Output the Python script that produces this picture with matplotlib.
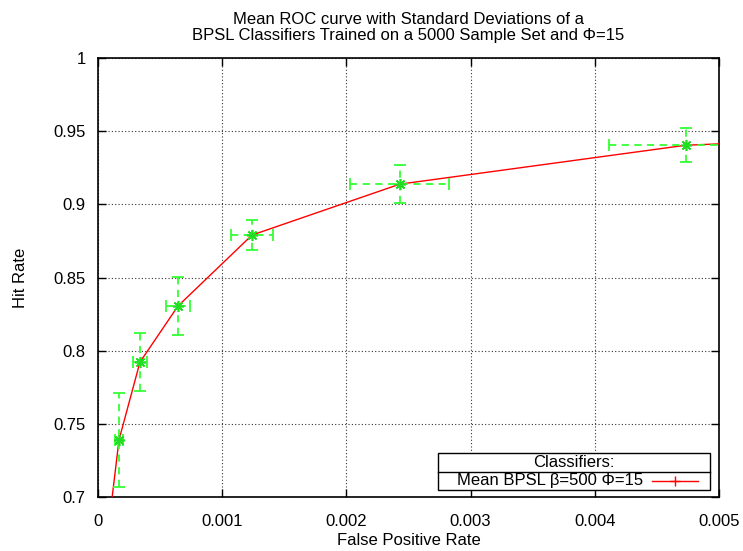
import matplotlib
matplotlib.use("Agg")
import matplotlib.pyplot as plt
from matplotlib.lines import Line2D
from matplotlib.patches import Rectangle

plt.rcParams['font.family'] = ['Liberation Sans', 'DejaVu Sans']
plt.rcParams['font.size'] = 12

# Mean ROC curve
fpr_curve = [0.000100, 0.000169, 0.000338, 0.000644, 0.00124, 0.00243, 0.004734, 0.005]
hit_curve = [0.690, 0.7390, 0.7922, 0.8305, 0.8790, 0.9138, 0.9404, 0.9413]

# Error-bar points
fpr_pts = [0.000169, 0.000338, 0.000644, 0.00124, 0.00243, 0.004734]
hit_pts = [0.7390, 0.7922, 0.8305, 0.8790, 0.9138, 0.9404]
fpr_std = [0.00003, 0.00006, 0.00010, 0.00017, 0.00040, 0.00062]
hit_std = [0.032, 0.020, 0.020, 0.010, 0.013, 0.0115]

title = ("Mean ROC curve with Standard Deviations of a\n"
         "BPSL Classifiers Trained on a 5000 Sample Set and \u03a6=15")
legend_title = "Classifiers:"
legend_label = "Mean BPSL \u03b2=500 \u03a6=15"

fig = plt.figure(figsize=(7.43, 5.51), dpi=100)
ax = fig.add_axes([98/743, 1-497/551, (719-98)/743, (497-58)/551])

ax.plot(fpr_curve, hit_curve, color='red', lw=1.0, zorder=3, clip_on=True)

green = '#33ff33'
eb = ax.errorbar(fpr_pts, hit_pts, xerr=fpr_std, yerr=hit_std, fmt='none',
                 ecolor=green, elinewidth=1.3, capsize=4, capthick=1.3, zorder=4)
for lc in eb[2]:
    lc.set_linestyle((0, (4, 3)))
ax.plot(fpr_pts, hit_pts, linestyle='none', marker=(8, 2, 0), ms=8,
        mec='#22dd22', mew=1.2, zorder=5)

ax.set_xlim(0, 0.005)
ax.set_ylim(0.7, 1.0)
ax.set_xticks([0, 0.001, 0.002, 0.003, 0.004, 0.005])
ax.set_xticklabels(['0', '0.001', '0.002', '0.003', '0.004', '0.005'])
ax.set_yticks([0.7, 0.75, 0.8, 0.85, 0.9, 0.95, 1.0])
ax.set_yticklabels(['0.7', '0.75', '0.8', '0.85', '0.9', '0.95', '1'])
ax.tick_params(direction='in', top=True, right=True, length=6, width=1, labelsize=12)
ax.tick_params(axis='y', pad=9)
ax.tick_params(axis='x', pad=12)
ax.grid(True, color='#333333', linestyle=(0, (1, 2)), linewidth=0.8)
for s in ax.spines.values():
    s.set_linewidth(1.2)

ax.set_xlabel('False Positive Rate', labelpad=3)
ax.set_ylabel('Hit Rate', labelpad=18)
ax.set_title(title, fontsize=12, pad=13, linespacing=1.05)

# gnuplot style legend box
x0, x1 = (438-98)/621, (710-98)/621
y0, y1 = (497-490)/439, (497-453)/439
ym = (497-472)/439
ax.add_patch(Rectangle((x0, y0), x1-x0, y1-y0, transform=ax.transAxes,
                       facecolor='white', edgecolor='black', lw=1.0, zorder=10))
ax.add_line(Line2D([x0, x1], [ym, ym], transform=ax.transAxes, color='black', lw=1.0, zorder=11))
ax.text((x0+x1)/2, (ym+y1)/2, legend_title, transform=ax.transAxes,
        ha='center', va='center', fontsize=12, zorder=12)
ax.text((643-98)/621, (y0+ym)/2, legend_label, transform=ax.transAxes,
        ha='right', va='center', fontsize=12, zorder=12)
ax.add_line(Line2D([(652-98)/621, (698-98)/621], [(y0+ym)/2]*2, transform=ax.transAxes,
                   color='red', lw=1.0, zorder=12))
ax.add_line(Line2D([(675-98)/621], [(y0+ym)/2], transform=ax.transAxes, color='red',
                   marker='+', ms=7, mew=1.0, zorder=12))

fig.savefig('out.png', dpi=100)
